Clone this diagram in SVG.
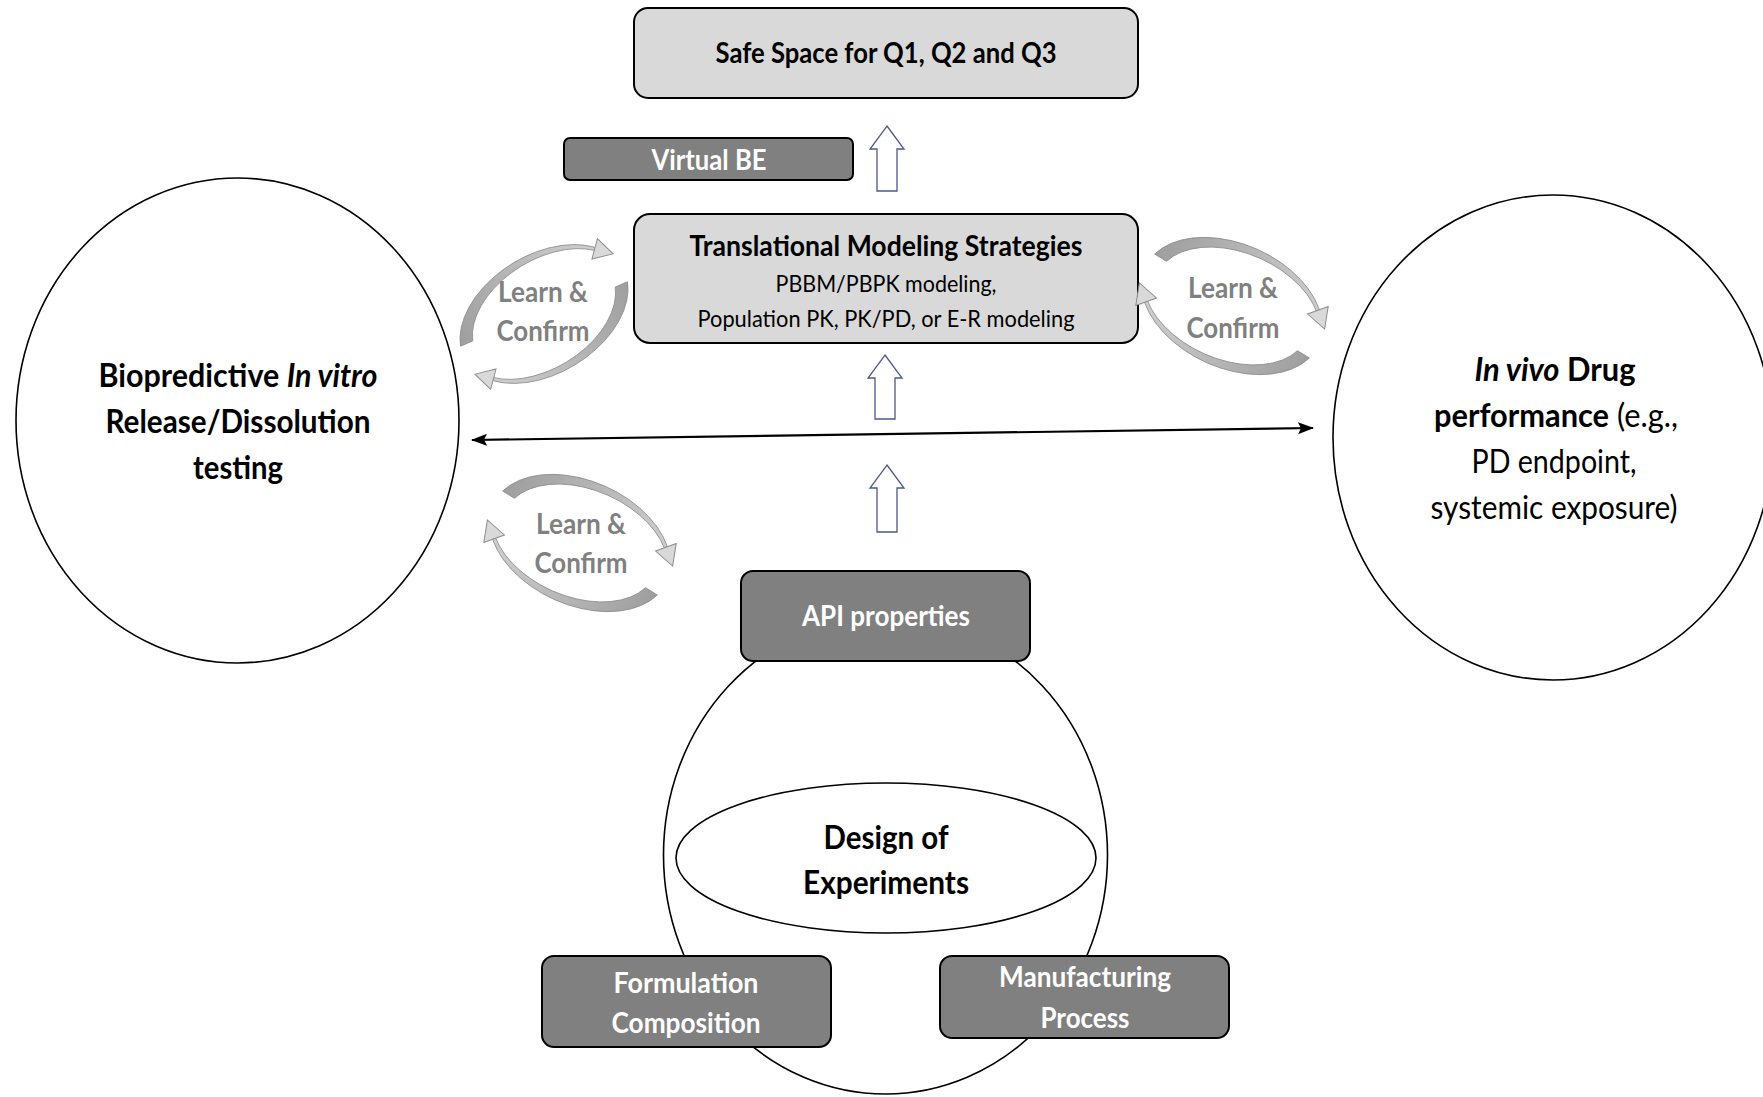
<svg xmlns="http://www.w3.org/2000/svg" xmlns:xlink="http://www.w3.org/1999/xlink" width="1763" height="1097" viewBox="0 0 1763 1097">
<style>
  text { font-family: Lato, "Open Sans", "Liberation Sans", sans-serif; text-anchor: middle; }
  .b { font-weight: bold; }
  .light { fill: #d9d9d9; stroke: #000; stroke-width: 2; }
  .dark { fill: #808080; stroke: #000; stroke-width: 2; }
  .circ { fill: #fff; stroke: #000; stroke-width: 1.6; }
  .wt { fill: #fff; font-weight: bold; font-size: 28px; }
  .bt { fill: #000; font-weight: bold; font-size: 28px; }
  .sub { fill: #000; font-size: 24px; }
  .cl { fill: #000; font-size: 32px; }
  .lc { fill: #808080; font-weight: bold; font-size: 29px; }
  .blk { fill: #fff; stroke: #4a5a8c; stroke-width: 1.3; }
  .dbl { stroke: #000; stroke-width: 2.2; fill: none; }
</style>
<defs>
  <linearGradient id="bandGrad" gradientUnits="userSpaceOnUse" x1="-92" y1="0" x2="92" y2="0">
    <stop offset="0" stop-color="#9e9e9e"/>
    <stop offset="1" stop-color="#d2d2d2"/>
  </linearGradient>
  <g id="lc-arrow">
    <path d="M-91.8,-16 A95,62 0 0 1 80.6,-32.9 L79.8,-29.1 A87,55 0 0 0 -78,-14.2 Z" fill="url(#bandGrad)" stroke="#8c8c8c" stroke-width="0.8"/>
    <polygon points="88.1,-38.6 94,-16.6 72.3,-23.4" fill="#d9d9d9" stroke="#8c8c8c" stroke-width="1"/>
  </g>
  <g id="lc-cycle">
    <use xlink:href="#lc-arrow"/>
    <use xlink:href="#lc-arrow" transform="rotate(180)"/>
  </g>
  <marker id="ah" viewBox="0 0 16 12" refX="15" refY="6" markerWidth="16" markerHeight="12" markerUnits="userSpaceOnUse" orient="auto-start-reverse">
    <path d="M0,0 L16,6 L0,12 L3,6 Z" fill="#000"/>
  </marker>
</defs>

<rect width="1763" height="1097" fill="#fff"/>

<g id="invitro">
  <ellipse class="circ" cx="237.5" cy="420.5" rx="221.5" ry="242.5"/>
  <text class="cl b" x="238" y="387" textLength="279" lengthAdjust="spacingAndGlyphs">Biopredictive <tspan font-style="italic">In vitro</tspan></text>
  <text class="cl b" x="238" y="433" textLength="265" lengthAdjust="spacingAndGlyphs">Release/Dissolution</text>
  <text class="cl b" x="238" y="479" textLength="90" lengthAdjust="spacingAndGlyphs">testing</text>
</g>

<g id="invivo">
  <ellipse class="circ" cx="1553" cy="437.5" rx="220" ry="242.5"/>
  <text class="cl" x="1555" y="381" textLength="161" lengthAdjust="spacingAndGlyphs"><tspan class="b" font-style="italic">In vivo</tspan><tspan class="b"> Drug</tspan></text>
  <text class="cl" x="1556" y="427" textLength="244" lengthAdjust="spacingAndGlyphs"><tspan class="b">performance</tspan> (e.g.,</text>
  <text class="cl" x="1554" y="473" textLength="165" lengthAdjust="spacingAndGlyphs">PD endpoint,</text>
  <text class="cl" x="1554" y="519" textLength="247" lengthAdjust="spacingAndGlyphs">systemic exposure)</text>
</g>

<g id="doe-circle">
  <ellipse class="circ" cx="885.5" cy="855" rx="222" ry="239"/>
</g>

<g id="doe">
  <ellipse class="circ" cx="886" cy="858" rx="210" ry="75"/>
  <text class="b" font-size="33" x="886" y="849" textLength="125" lengthAdjust="spacingAndGlyphs">Design of</text>
  <text class="b" font-size="33" x="886" y="894" textLength="166" lengthAdjust="spacingAndGlyphs">Experiments</text>
</g>

<g id="safe-space">
  <rect class="light" x="634" y="8" width="504" height="90" rx="14"/>
  <text class="bt" x="886" y="63" textLength="341" lengthAdjust="spacingAndGlyphs">Safe Space for Q1, Q2 and Q3</text>
</g>

<g id="virtual-be">
  <rect class="dark" x="564" y="138" width="289" height="42" rx="6"/>
  <text class="wt" x="709" y="170" textLength="115" lengthAdjust="spacingAndGlyphs">Virtual BE</text>
</g>

<g id="translational">
  <rect class="light" x="634" y="214" width="504" height="129" rx="16"/>
  <text class="bt" x="886" y="256" textLength="393" lengthAdjust="spacingAndGlyphs">Translational Modeling Strategies</text>
  <text class="sub" x="886" y="292" textLength="221" lengthAdjust="spacingAndGlyphs">PBBM/PBPK modeling,</text>
  <text class="sub" x="886" y="327" textLength="377" lengthAdjust="spacingAndGlyphs">Population PK, PK/PD, or E-R modeling</text>
</g>

<g id="api">
  <rect class="dark" x="741" y="571" width="289" height="90" rx="12"/>
  <text class="wt" x="886" y="626" textLength="168" lengthAdjust="spacingAndGlyphs">API properties</text>
</g>

<g id="formulation">
  <rect class="dark" x="542" y="956" width="289" height="91" rx="12"/>
  <text class="wt" x="686" y="993" textLength="145" lengthAdjust="spacingAndGlyphs">Formulation</text>
  <text class="wt" x="686" y="1033" textLength="149" lengthAdjust="spacingAndGlyphs">Composition</text>
</g>

<g id="manufacturing">
  <rect class="dark" x="940" y="956" width="289" height="82" rx="12"/>
  <text class="wt" x="1085" y="987" textLength="172" lengthAdjust="spacingAndGlyphs">Manufacturing</text>
  <text class="wt" x="1085" y="1028" textLength="89" lengthAdjust="spacingAndGlyphs">Process</text>
</g>

<g id="cycle-left">
  <use xlink:href="#lc-cycle" transform="translate(544,314) rotate(-31) scale(0.96)"/>
  <text class="lc" x="543" y="302" textLength="90" lengthAdjust="spacingAndGlyphs">Learn &amp;</text>
  <text class="lc" x="543" y="341" textLength="93" lengthAdjust="spacingAndGlyphs">Confirm</text>
</g>
<g id="cycle-right">
  <use xlink:href="#lc-cycle" transform="translate(1232,306) rotate(24)"/>
  <text class="lc" x="1233" y="298" textLength="90" lengthAdjust="spacingAndGlyphs">Learn &amp;</text>
  <text class="lc" x="1233" y="338" textLength="93" lengthAdjust="spacingAndGlyphs">Confirm</text>
</g>
<g id="cycle-bottom">
  <use xlink:href="#lc-cycle" transform="translate(580,543) rotate(24)"/>
  <text class="lc" x="581" y="534" textLength="90" lengthAdjust="spacingAndGlyphs">Learn &amp;</text>
  <text class="lc" x="581" y="573" textLength="93" lengthAdjust="spacingAndGlyphs">Confirm</text>
</g>

<g id="connectors">
  <line class="dbl" x1="472" y1="440" x2="1313" y2="428" marker-start="url(#ah)" marker-end="url(#ah)"/>
  <path class="blk" d="M887,126 L904,149 L897,149 L897,191 L877,191 L877,149 L870,149 Z"/>
  <path class="blk" d="M885,355 L902,378 L895,378 L895,419 L875,419 L875,378 L868,378 Z"/>
  <path class="blk" d="M887,465 L904,488 L897,488 L897,532 L877,532 L877,488 L870,488 Z"/>
</g>
</svg>
